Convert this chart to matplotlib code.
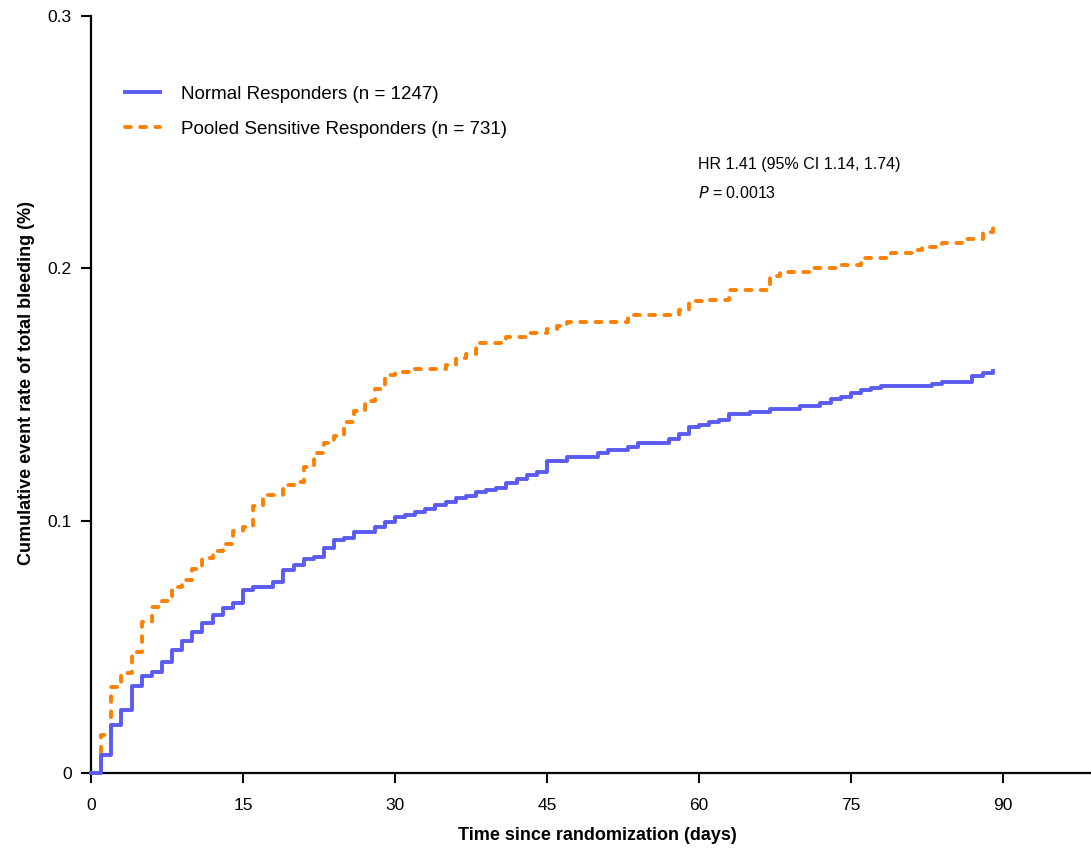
import matplotlib
matplotlib.use("Agg")
import matplotlib.pyplot as plt
from matplotlib.ticker import FuncFormatter

plt.rcParams['font.family'] = ['Liberation Sans', 'DejaVu Sans']

# Cumulative event rate, change points (day, rate)
normal_days = [0, 1, 2, 3, 4, 5, 6, 7, 8, 9, 10, 11, 12, 13, 14, 15, 16, 18, 19, 20,
               21, 22, 23, 24, 25, 26, 28, 29, 30, 31, 32, 33, 34, 35, 36, 37, 38, 39, 40, 41,
               42, 43, 44, 45, 47, 50, 51, 53, 54, 57, 58, 59, 60, 61, 62, 63, 65, 67, 70, 72,
               73, 74, 75, 76, 77, 78, 83, 84, 87, 88, 89]
normal_rate = [0, 0.0071, 0.019, 0.025, 0.0345, 0.0384, 0.0399, 0.0441, 0.0488, 0.0523,
               0.056, 0.0595, 0.0628, 0.0654, 0.0675, 0.0725, 0.0738, 0.0758, 0.0805, 0.0824,
               0.0847, 0.0857, 0.089, 0.0923, 0.093, 0.0956, 0.0976, 0.0996, 0.1013, 0.1022,
               0.1036, 0.1046, 0.1062, 0.1073, 0.1089, 0.1099, 0.1115, 0.1122, 0.1131, 0.1148,
               0.1164, 0.1181, 0.1194, 0.1238, 0.1253, 0.1269, 0.128, 0.1293, 0.1307, 0.1322,
               0.1344, 0.137, 0.138, 0.139, 0.140, 0.1423, 0.143, 0.1443, 0.1455, 0.1468,
               0.1482, 0.149, 0.1506, 0.1518, 0.1525, 0.1534, 0.1542, 0.1551, 0.1575, 0.1584,
               0.1594]

pooled_days = [0, 1, 2, 3, 4, 5, 6, 7, 8, 9, 10, 11, 12, 13, 14, 15, 16, 17, 19, 20,
               21, 22, 23, 24, 25, 26, 27, 28, 29, 30, 32, 35, 36, 37, 38, 41, 43, 45, 46, 47,
               53, 58, 59, 61, 63, 67, 68, 71, 74, 76, 79, 81, 82, 84, 86, 88, 89]
pooled_rate = [0, 0.0151, 0.034, 0.0395, 0.048, 0.060, 0.0656, 0.0683, 0.0738, 0.0765,
               0.081, 0.0851, 0.0881, 0.0906, 0.096, 0.0976, 0.1058, 0.110, 0.1141, 0.1155,
               0.1214, 0.1267, 0.1307, 0.1336, 0.139, 0.1433, 0.1476, 0.152, 0.1578, 0.1588,
               0.1601, 0.1617, 0.1645, 0.166, 0.1703, 0.1729, 0.1742, 0.176, 0.1772, 0.1786,
               0.1815, 0.1835, 0.1872, 0.1875, 0.1914, 0.197, 0.1984, 0.200, 0.2013, 0.2042,
               0.2059, 0.2073, 0.2086, 0.210, 0.2115, 0.2143, 0.2172]

x_ticks = [0, 15, 30, 45, 60, 75, 90]
y_ticks = [0, 0.1, 0.2, 0.3]

fig = plt.figure(figsize=(10.91, 8.5), dpi=100)
ax = fig.add_axes([0.0834, 0.0906, 0.9166, 0.8906])

ax.step(pooled_days, pooled_rate, where='post', color='#FF8000', lw=2.8,
        dashes=(1.5, 2.4), dash_capstyle='round', clip_on=False,
        label='Pooled Sensitive Responders (n = 731)', zorder=3)
ax.step(normal_days, normal_rate, where='post', color='#5B5BF2', lw=2.8,
        clip_on=False, label='Normal Responders (n = 1247)', zorder=4)

ax.set_xlim(0, 98.7)
ax.set_ylim(0, 0.3)
ax.set_xticks(x_ticks)
ax.set_yticks(y_ticks)
ax.yaxis.set_major_formatter(FuncFormatter(lambda v, p: '0' if v == 0 else f'{v:.1f}'))

for s in ['top', 'right']:
    ax.spines[s].set_visible(False)
for s in ['left', 'bottom']:
    ax.spines[s].set_linewidth(1.6)
ax.tick_params(axis='both', direction='out', length=7, width=1.5, labelsize=12.5)
ax.tick_params(axis='x', pad=11)
ax.tick_params(axis='y', pad=7)

ax.set_xlabel('Time since randomization (days)', fontsize=13, fontweight='bold')
ax.set_ylabel('Cumulative event rate of total bleeding (%)', fontsize=13,
              fontweight='bold')
ax.xaxis.set_label_coords(0.506, -0.071)
ax.yaxis.set_label_coords(-0.056, 0.515)

handles, labels = ax.get_legend_handles_labels()
ax.legend(handles[::-1], labels[::-1], loc='upper left', bbox_to_anchor=(0.017, 0.93),
          frameon=False, fontsize=13.5, handlelength=1.9, handletextpad=1.1,
          labelspacing=0.95)

ax.text(0.607, 0.804, 'HR 1.41 (95% CI 1.14, 1.74)', transform=ax.transAxes,
        fontsize=11.5, va='center', ha='left')
ax.text(0.607, 0.766, r'$\it{P}$ = 0.0013', transform=ax.transAxes,
        fontsize=11.5, va='center', ha='left')

plt.savefig('out.png', dpi=100)
